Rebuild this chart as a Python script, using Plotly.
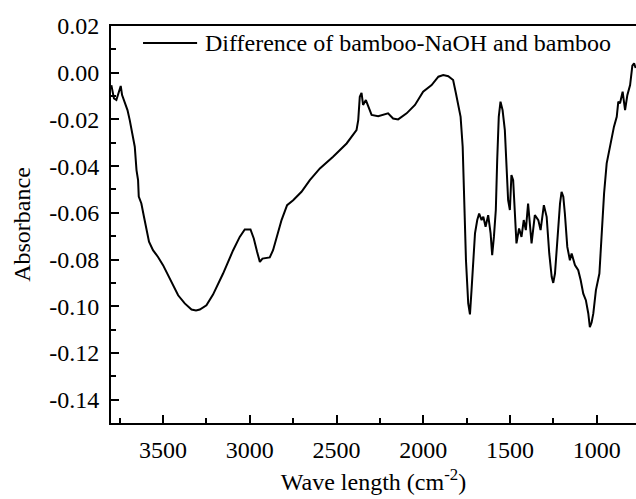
import plotly.graph_objects as go

# FTIR difference spectrum (bamboo-NaOH minus bamboo)
wavenumber = [
    3798, 3783, 3769, 3755, 3744, 3736, 3721, 3705, 3692, 3679, 3663, 3653, 3644, 3640,
    3625, 3610, 3596, 3581, 3558, 3529, 3500, 3471, 3442, 3413, 3375, 3336, 3310, 3288,
    3250, 3212, 3154, 3096, 3058, 3029, 2996, 2977, 2958, 2942, 2927, 2885, 2866, 2843,
    2817, 2785, 2750, 2702, 2654, 2596, 2520, 2442, 2385, 2375, 2366, 2356, 2347, 2331,
    2318, 2298, 2260, 2203, 2174, 2145, 2096, 2048, 2001, 1952, 1913, 1885, 1856, 1828,
    1812, 1799, 1785, 1773, 1766, 1754, 1741, 1731, 1722, 1712, 1702, 1689, 1678, 1664,
    1654, 1641, 1626, 1612, 1603, 1593, 1582, 1574, 1565, 1555, 1543, 1530, 1520, 1511,
    1501, 1492, 1482, 1474, 1463, 1448, 1434, 1421, 1409, 1396, 1385, 1376, 1357, 1337,
    1324, 1305, 1289, 1274, 1260, 1251, 1241, 1228, 1212, 1203, 1193, 1184, 1170, 1155,
    1145, 1126, 1107, 1093, 1078, 1063, 1049, 1040, 1030, 1020, 1005, 985, 972, 958,
    943, 928, 914, 901, 885, 876, 866, 851, 837, 824, 808, 795, 785, 776,
]
absorbance = [
    -0.0053, -0.0110, -0.0117, -0.0088, -0.0057, -0.0096, -0.0131, -0.0160, -0.0203, -0.0253,
    -0.0317, -0.0417, -0.0460, -0.0530, -0.0560, -0.0617, -0.0674, -0.0724, -0.0760, -0.0789,
    -0.0824, -0.0867, -0.0903, -0.0953, -0.0988, -0.1014, -0.1018, -0.1014, -0.0996, -0.0950,
    -0.0860, -0.0760, -0.0703, -0.0671, -0.0671, -0.0710, -0.0767, -0.0810, -0.0796, -0.0791,
    -0.0760, -0.0703, -0.0631, -0.0567, -0.0546, -0.0510, -0.0460, -0.0410, -0.0360, -0.0303,
    -0.0246, -0.0203, -0.0103, -0.0086, -0.0138, -0.0117, -0.0146, -0.0181, -0.0186, -0.0174,
    -0.0196, -0.0200, -0.0174, -0.0138, -0.0081, -0.0053, -0.0017, -0.0010, -0.0015, -0.0031,
    -0.0088, -0.0131, -0.0189, -0.0317, -0.0517, -0.0803, -0.0988, -0.1035, -0.0931, -0.0803,
    -0.0688, -0.0631, -0.0603, -0.0631, -0.0617, -0.0660, -0.0610, -0.0688, -0.0781, -0.0703,
    -0.0588, -0.0374, -0.0189, -0.0124, -0.0160, -0.0246, -0.0388, -0.0546, -0.0588, -0.0438,
    -0.0460, -0.0574, -0.0731, -0.0667, -0.0703, -0.0631, -0.0674, -0.0560, -0.0660, -0.0731,
    -0.0610, -0.0631, -0.0674, -0.0567, -0.0617, -0.0774, -0.0874, -0.0900, -0.0860, -0.0717,
    -0.0560, -0.0510, -0.0531, -0.0603, -0.0746, -0.0803, -0.0774, -0.0824, -0.0846, -0.0888,
    -0.0946, -0.0974, -0.1031, -0.1090, -0.1070, -0.1031, -0.0931, -0.0860, -0.0688, -0.0517,
    -0.0388, -0.0331, -0.0274, -0.0231, -0.0189, -0.0124, -0.0131, -0.0081, -0.0160, -0.0096,
    -0.0053, 0.0030, 0.0040, 0.0020,
]

y_tick_values = [0.02, 0.00, -0.02, -0.04, -0.06, -0.08, -0.10, -0.12, -0.14]
y_tick_labels = ["0.02", "0.00", "-0.02", "-0.04", "-0.06", "-0.08", "-0.10", "-0.12", "-0.14"]
x_tick_values = [3500, 3000, 2500, 2000, 1500, 1000]
x_tick_labels = ["3500", "3000", "2500", "2000", "1500", "1000"]

series_name = "Difference of bamboo-NaOH and bamboo"

FONT = "Liberation Serif"
FS = 24

fig = go.Figure()
fig.add_trace(go.Scatter(
    x=wavenumber, y=absorbance, mode="lines", name=series_name,
    line=dict(color="black", width=2), showlegend=False,
))

axis_common = dict(
    showgrid=False, zeroline=False, showline=True, linecolor="black", linewidth=2,
    ticks="inside", ticklen=8, tickwidth=1.5, tickcolor="black",
    tickfont=dict(family=FONT, size=FS, color="black"),
)

fig.update_xaxes(
    **axis_common,
    range=[3800, 774], mirror=True,
    tickvals=x_tick_values, ticktext=x_tick_labels,
    minor=dict(ticks="inside", dtick=250, tick0=0, ticklen=5, tickwidth=1.5, tickcolor="black"),
    title=dict(text="Wave length (cm<sup>-2</sup>)", font=dict(family=FONT, size=FS, color="black"),
               standoff=11),
    ticklabelstandoff=4,
)
fig.update_yaxes(
    **axis_common,
    range=[-0.15, 0.02], mirror=False,
    tickvals=y_tick_values, ticktext=y_tick_labels,
    minor=dict(ticks="inside", dtick=0.01, tick0=0, ticklen=5, tickwidth=1.5, tickcolor="black"),
    title=dict(text="Absorbance", font=dict(family=FONT, size=FS, color="black"), standoff=12),
    ticklabelstandoff=5,
)

# Legend key drawn as a short line plus label
fig.add_shape(type="line", xref="paper", yref="paper", x0=0.061, x1=0.164, y0=0.957, y1=0.957,
              line=dict(color="black", width=2))
fig.add_annotation(xref="paper", yref="paper", x=0.175, y=0.957, xanchor="left", yanchor="middle",
                   text=series_name, showarrow=False,
                   font=dict(family=FONT, size=FS, color="black"))

fig.update_layout(
    width=636, height=499,
    margin=dict(l=111, r=0, t=26, b=76, autoexpand=False),
    paper_bgcolor="white", plot_bgcolor="white",
    showlegend=False,
)

fig.write_html("out.html")
